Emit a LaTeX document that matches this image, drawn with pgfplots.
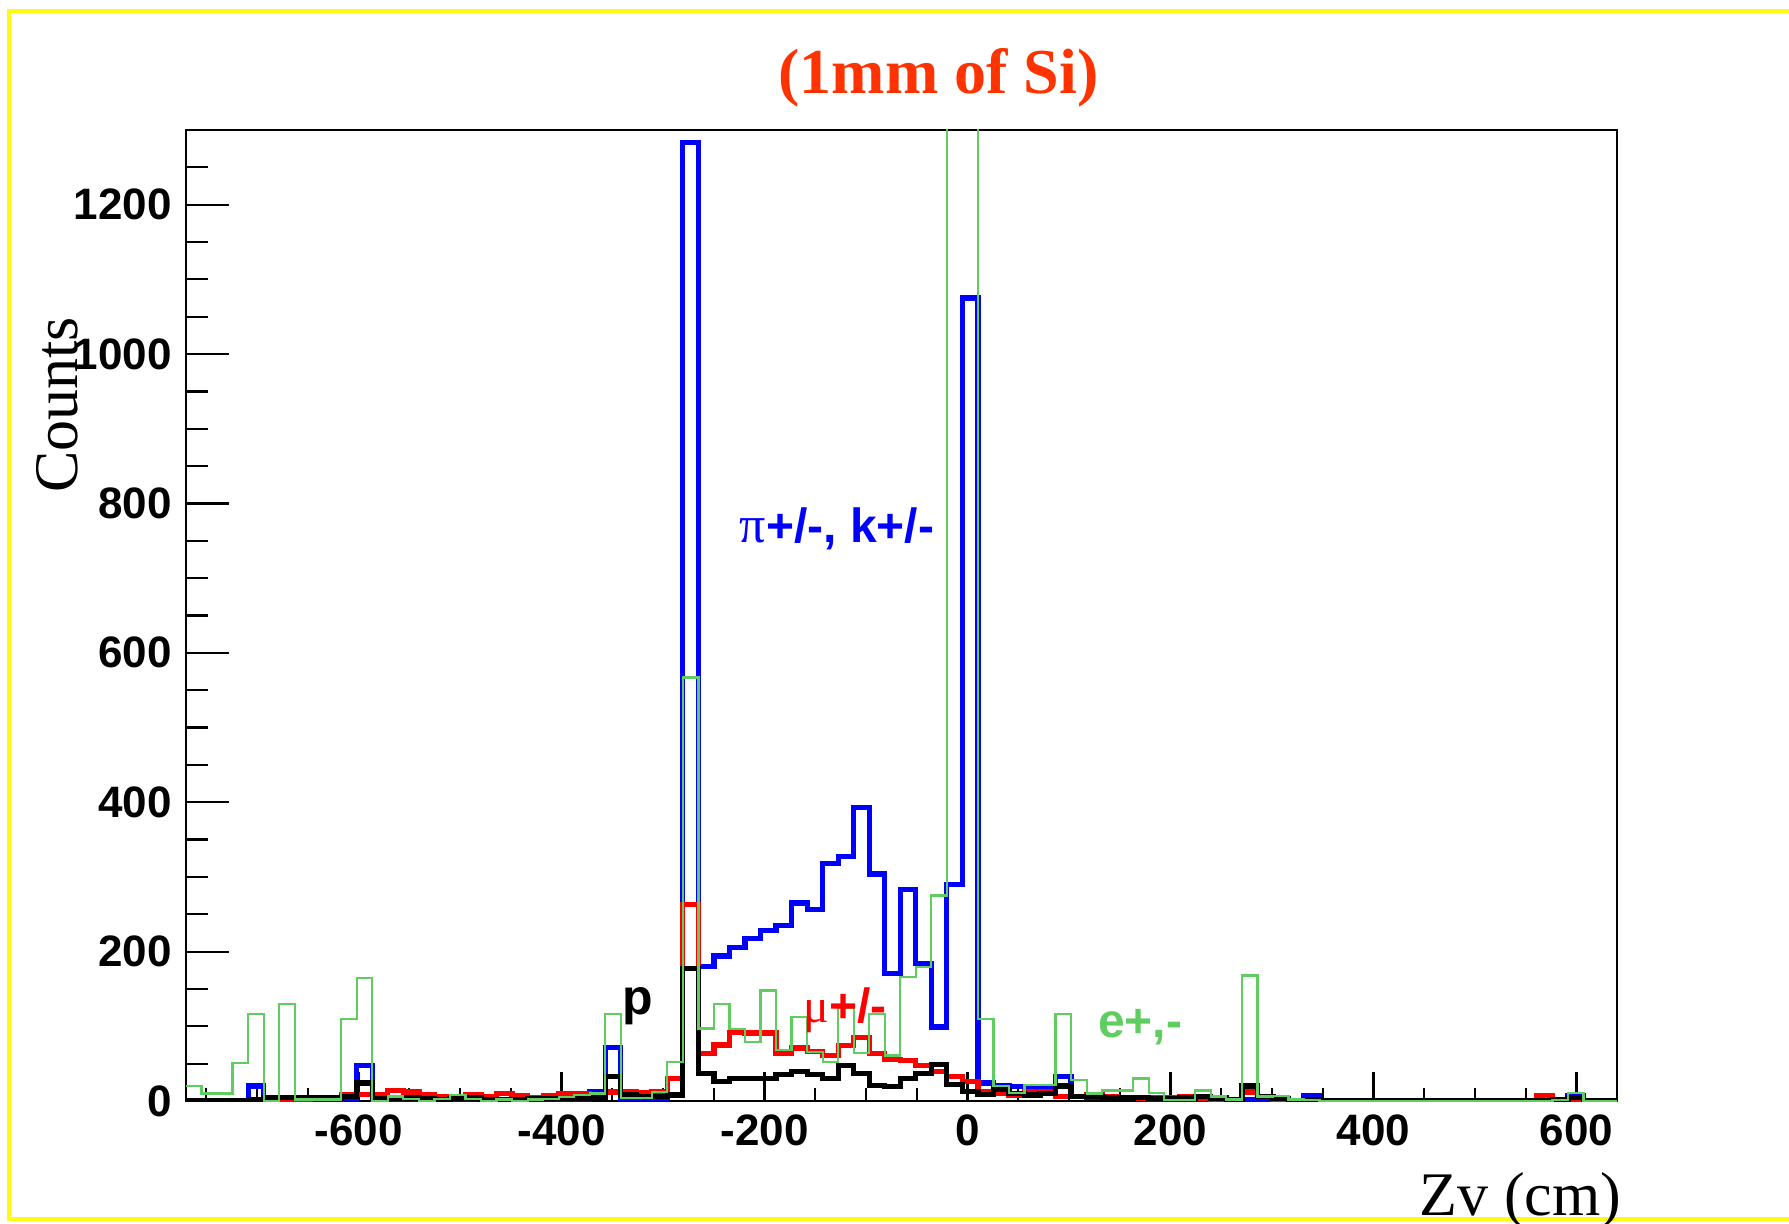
\documentclass[border=0pt]{standalone}
\usepackage{pgfplots}
\pgfplotsset{compat=1.18}
\usepackage{pgfplotstable}
\usepackage{fontspec}
\setmainfont{Liberation Serif}
\newfontfamily\arial{Liberation Sans}
\definecolor{hblue}{RGB}{0,0,255}
\definecolor{hred}{RGB}{255,0,0}
\definecolor{hgreen}{RGB}{95,205,95}
\definecolor{titlered}{RGB}{255,51,0}
\definecolor{frameyellow}{RGB}{255,250,20}

\pgfplotstableread{
x blue red black green
-770 0 0 0 20
-754.7 0 0 0 10
-739.4 0 0 0 10
-724.1 0 0 0 51
-708.8 20 0 2 116
-693.5 0 2 5 0
-678.2 0 2 5 130
-662.9 0 0 5 2
-647.6 0 3 4 2
-632.3 0 4 4 2
-617 3 9 6 110
-601.7 48 9 24 165
-586.4 2 8 3 0
-571.1 0 14 3 6
-555.8 0 12 4 3
-540.5 0 8 3 0
-525.2 0 6 2 3
-509.9 0 6 3 8
-494.6 0 9 4 3
-479.3 0 6 2 0
-464 0 10 2 2
-448.7 0 7 2 0
-433.4 0 4 3 2
-418.1 0 7 3 3
-402.8 0 10 3 5
-387.5 2 10 3 8
-372.2 12 8 4 10
-356.9 72 12 33 116
-341.6 3 12 8 4
-326.3 3 11 6 4
-311 4 12 6 12
-295.7 8 30 8 52
-280.4 1283 263 177 567
-265.1 180 64 37 97
-249.8 194 75 26 130
-234.5 205 92 30 96
-219.2 218 91 30 79
-203.9 228 91 30 148
-188.6 235 64 35 68
-173.3 265 71 39 113
-158 256 66 35 66
-142.7 318 61 30 52
-127.4 327 74 48 124
-112.1 393 85 37 64
-96.8 304 64 21 117
-81.5 171 56 19 61
-66.2 283 54 30 166
-50.9 184 47 37 179
-35.6 99 40 49 275
-20.3 290 33 22 1500
-5 1075 26 13 1500
10.3 24 12 9 110
25.6 21 10 15 20
40.9 19 8 10 11
56.2 19 12 8 21
71.5 19 12 10 21
86.8 33 6 20 116
102.1 6 6 6 28
117.4 5 8 6 10
132.7 4 6 4 14
148 3 5 4 14
163.3 3 4 5 30
178.6 2 4 3 11
193.9 2 5 3 1
209.2 2 6 4 1
224.5 2 3 6 14
239.8 2 2 4 6
255.1 1 2 2 2
270.4 2 12 20 168
285.7 1 6 6 6
301 0 2 3 7
316.3 0 1 1 2
331.6 7 0 2 1
346.9 0 0 0 0
362.2 0 0 0 0
377.5 0 0 0 0
392.8 0 0 0 0
408.1 0 0 0 0
423.4 0 0 0 0
438.7 0 0 0 0
454 0 0 0 0
469.3 0 0 0 0
484.6 0 0 0 0
499.9 0 0 0 0
515.2 0 0 0 0
530.5 0 0 0 0
545.8 0 0 0 0
561.1 0 7 0 0
576.4 0 0 2 1
591.7 7 0 5 11
607 0 0 0 0
622.3 0 0 0 0
637.6 0 0 0 0
652.9 0 0 0 0
}\hist

\begin{document}
\begin{tikzpicture}
\useasboundingbox (0,0) rectangle (447.25pt,305.75pt);
\fill[white] (0,0) rectangle (447.25pt,305.75pt);
\draw[frameyellow, line width=1pt] (447.25pt,302.9pt) -- (2.25pt,302.9pt) -- (2.25pt,1.1pt) -- (447.25pt,1.1pt);
\begin{axis}[
  at={(46.5pt,30.5pt)}, anchor=south west,
  scale only axis, width=357.75pt, height=242.75pt,
  xmin=-770, xmax=640, ymin=0, ymax=1300,
  xtick={-600,-400,-200,0,200,400,600},
  xticklabels={-600,-400,-200,0,200,400,600},
  ytick={0,200,400,600,800,1000,1200},
  yticklabels={0,200,400,600,800,1000,1200},
  minor xtick={-750,-700,...,600},
  minor ytick={50,100,...,1250},
  tick align=inside,
  xtick pos=left, ytick pos=left,
  major tick length=10.75pt, minor tick length=5.5pt,
  xtick style={/pgfplots/major tick length=7.25pt,/pgfplots/minor tick length=3.25pt, black, line width=0.55pt},
  ytick style={black, line width=0.55pt},
  axis line style={black, line width=0.6pt},
  ticklabel style={font={\arial\bfseries\fontsize{11pt}{13pt}\selectfont}},
  axis background/.style={fill=white},
]
\addplot[const plot, hblue, line width=1.3pt] table[x=x,y=blue]{\hist};
\addplot[const plot, hred, line width=1.3pt] table[x=x,y=red]{\hist};
\addplot[const plot, black, line width=1.3pt] table[x=x,y=black]{\hist};
\addplot[const plot, hgreen, line width=0.55pt] table[x=x,y=green]{\hist};
\node[anchor=west, inner sep=0pt, text=hblue, font={\arial\bfseries\fontsize{12pt}{14pt}\selectfont}] at (axis cs:-225,766) {{\rmfamily\mdseries\fontsize{13pt}{14pt}\selectfont π}+/-, k+/-};
\node[anchor=center, inner sep=0pt, text=black, font={\arial\bfseries\fontsize{12.5pt}{14pt}\selectfont}] at (axis cs:-325,127) {p};
\node[anchor=west, inner sep=0pt, text=hred, font={\arial\bfseries\fontsize{12pt}{14pt}\selectfont}] at (axis cs:-162,122) {{\rmfamily\mdseries μ}+/-};
\node[anchor=west, inner sep=0pt, text=hgreen, font={\arial\bfseries\fontsize{12pt}{14pt}\selectfont}] at (axis cs:128,99) {e+,-};
\end{axis}
\node[text=titlered, font={\bfseries\fontsize{16pt}{19pt}\selectfont}] at (234.6pt,286.25pt) {(1mm of Si)};
\node[rotate=90, font={\fontsize{15.5pt}{18pt}\selectfont}] at (14.25pt,204.5pt) {Counts};
\node[anchor=base east, inner sep=0pt, font={\fontsize{15.5pt}{18pt}\selectfont}] at (405.5pt,2pt) {Zv (cm)};
\end{tikzpicture}
\end{document}
